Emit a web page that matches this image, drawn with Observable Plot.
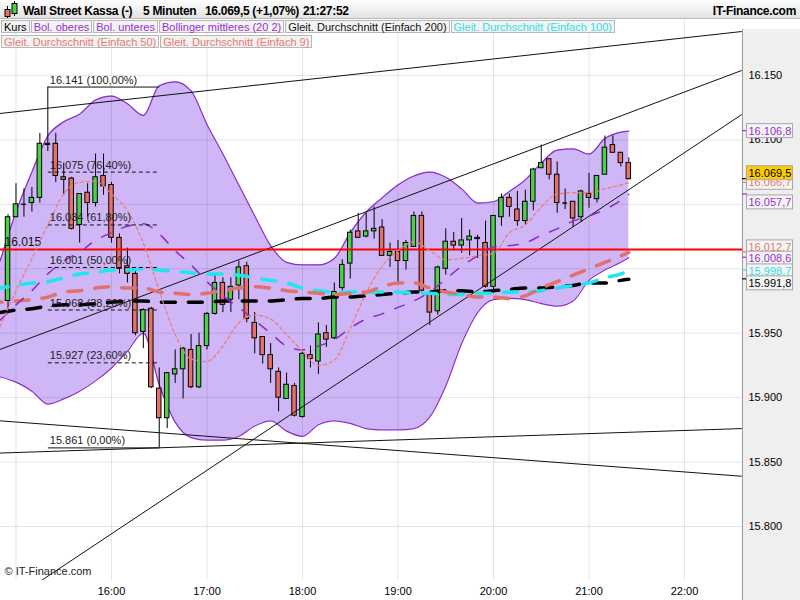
<!DOCTYPE html>
<html><head><meta charset="utf-8">
<script src="https://cdn.jsdelivr.net/npm/d3@7"></script>
<script src="https://cdn.jsdelivr.net/npm/@observablehq/plot@0.6"></script>
<style>
body{margin:0;width:800px;height:600px;position:relative;overflow:hidden;font-family:"Liberation Sans",Arial,sans-serif;background:#fff}
#header{position:absolute;left:0;top:0;width:800px;height:19px;background:linear-gradient(#ffffff,#e2e2e2);border-bottom:1px solid #b8b8b8;box-sizing:border-box}
#header span{position:absolute;top:3px;font-weight:bold;font-size:12px;letter-spacing:-0.3px;line-height:16px;color:#000;white-space:nowrap}
#rpanel{position:absolute;left:742px;top:29px;width:58px;height:571px;background:#efefef;border-left:1px solid #9a9a9a;box-sizing:border-box}
#chart{position:absolute;left:0;top:18px}
.row{position:absolute;left:1px;display:flex;gap:1px}
.leg{height:13px;line-height:13px;font-size:11px;border:1px solid #b8b8b8;background:#f3f3f3;padding:0 2px;box-sizing:border-box;white-space:nowrap}
</style></head>
<body>
<div id="rpanel"></div>
<div id="chart"></div>
<div id="header">
<svg width="20" height="19" style="position:absolute;left:1px;top:0">
<line x1="6.5" y1="6" x2="6.5" y2="18" stroke="#000"/>
<rect x="4" y="9.5" width="5" height="7" fill="#e8706a" stroke="#000"/>
<line x1="13.5" y1="1" x2="13.5" y2="16" stroke="#000"/>
<rect x="11" y="3.5" width="5" height="10" fill="#4cd04c" stroke="#000"/>
</svg>
<span id="t1" style="left:23px"></span><span id="t2" style="left:143px"></span><span id="t3" style="left:205px"></span><span id="t4" style="left:303px"></span>
<span id="t5" style="right:4px"></span>
</div>
<div class="row" id="leg1" style="top:20px"></div>
<div class="row" id="leg2" style="top:35px"></div>
<script>
// ---------- header / legend text ----------
const titleParts = ["Wall Street Kassa (-)", "5 Minuten", "16.069,5 (+1,07%)", "21:27:52", "IT-Finance.com"];
const legendRow1 = ["Kurs", "Bol. oberes", "Bol. unteres", "Bollinger mittleres (20 2)", "Gleit. Durchschnitt (Einfach 200)", "Gleit. Durchschnitt (Einfach 100)"];
const legendRow2 = ["Gleit. Durchschnitt (Einfach 50)", "Gleit. Durchschnitt (Einfach 9)"];
const legendColors1 = ["#000", "#9a2fd0", "#9a2fd0", "#9a2fd0", "#111", "#2fe0e8"];
const legendColors2 = ["#e57a74", "#e57a74"];

// ---------- candles (5 minute bars starting 14:55) ----------
const candleStart = "14:55";
const opens  = [15975,16040,16050,16051,16055,16097,16097,16071,16070,16034,16059,16051,16072,16065,16024,16002,15996,15951,15969,15907,15884,15918,15922,15937,15908,15940,15965,15989,15976,15987,16002,15958,15947,15933,15920,15899,15909,15885,15933,15928,15950,15946,15985,16004,16029,16025,16029,16032,16010,16013,16006,16017,16041,15981,15967,16000,16021,16018,16022,16024,16020,15986,16040,16055,16046,16037,16052,16078,16085,16073,16051,16052,16040,16058,16054,16073,16096,16090,16082];
const highs  = [16042,16066,16062,16063,16105,16141,16105,16082,16071,16058,16066,16089,16089,16067,16027,16016,15999,15969,15970,15923,15919,15937,15939,15949,15950,15966,15996,15993,15993,16006,16005,15966,15947,15942,15923,15919,15911,15936,15940,15958,15956,15989,16007,16030,16043,16043,16048,16038,16020,16022,16022,16044,16044,15982,16002,16031,16028,16039,16030,16026,16037,16041,16058,16058,16060,16061,16078,16096,16085,16083,16062,16052,16061,16074,16072,16103,16103,16090,16086];
const lows   = [15965,16040,16040,16044,16051,16091,16067,16057,16030,16020,16040,16048,16057,16020,15996,15989,15948,15938,15907,15861,15876,15911,15899,15907,15907,15937,15964,15966,15966,15976,15958,15934,15926,15911,15889,15899,15885,15884,15923,15918,15939,15945,15979,15992,16024,16024,16023,16010,16001,15989,15999,16017,15982,15956,15964,15995,16014,16012,16010,16008,15985,15983,16033,16040,16033,16034,16045,16078,16069,16043,16046,16032,16036,16047,16051,16073,16090,16079,16069];
const closes = [16040,16050,16050,16055,16097,16096,16072,16069,16031,16058,16051,16071,16064,16024,16000,15996,15950,15968,15908,15884,15919,15922,15938,15908,15940,15965,15989,15972,15986,16001,15961,15946,15933,15922,15900,15910,15886,15934,15930,15949,15945,15982,16003,16028,16024,16029,16031,16010,16013,16006,16020,16041,15983,15966,16001,16021,16018,16022,16025,16023,15986,16041,16055,16048,16037,16052,16077,16082,16073,16051,16051,16039,16060,16055,16072,16094,16090,16082,16069.5];

// ---------- indicators, read every 10 minutes ----------
const indTimes = ["14:50","15:00","15:10","15:20","15:30","15:40","15:50","16:00","16:10","16:20","16:30","16:40","16:50","17:00","17:10","17:20","17:30","17:40","17:50","18:00","18:10","18:20","18:30","18:40","18:50","19:00","19:10","19:20","19:30","19:40","19:50","20:00","20:10","20:20","20:30","20:40","20:50","21:00","21:10","21:20","21:25"];
const bolUpper = [16006,16044,16075,16103,16114,16120,16131,16134,16128,16119,16142,16145,16138,16112,16089,16065,16041,16018,16005,16003,16003,16008,16028,16044,16055,16065,16072,16075,16071,16062,16051,16052,16060,16069,16082,16092,16093,16089,16101,16106,16106.8];
const bolLower = [15916,15912,15905,15895,15899,15905,15913,15923,15936,15950,15910,15881,15869,15867,15867,15870,15878,15882,15874,15870,15879,15882,15880,15876,15875,15875,15876,15885,15909,15942,15966,15976,15977,15976,15973,15971,15975,15991,15999,16005,16008.6];
const bolMid   = [15960,15972,15983,15996,16006,16013,16022,16028,16033,16035,16027,16014,16003,15990,15979,15970,15960,15950,15940,15937,15940,15945,15954,15961,15965,15970,15975,15982,15992,16002,16010,16017,16018,16020,16026,16031,16037,16041,16046,16053,16057.7];
const ma9      = [15955,15983,16008,16034,16058,16067,16068,16058,16045,16020,15983,15949,15930,15928,15940,15958,15964,15961,15949,15936,15925,15929,15954,15981,16002,16014,16021,16014,16007,16008,16010,16012,16028,16034,16048,16058,16059,16059,16062,16065,16066.7];
const ma50     = [15974,15975,15976,15978,15982,15983,15985,15986,15985,15985,15982,15981,15980,15981,15983,15985,15986,15985,15983,15982,15981,15980,15981,15982,15986,15989,15989,15985,15982,15980,15978,15978,15977,15979,15985,15990,15995,16000,16005,16010,16012.7];
const ma100    = [15985,15987,15989,15990,15993,15996,15997,15999,15999,16000,15999,15998,15997,15996,15996,15995,15993,15991,15989,15985,15983,15982,15982,15982,15982,15982,15981,15981,15980,15980,15981,15981,15982,15982,15983,15985,15987,15989,15993,15996,15998.7];
const ma200    = [15966,15968,15969,15971,15972,15972,15973,15974,15975,15975,15974,15974,15974,15974,15975,15975,15975,15975,15976,15977,15977,15978,15978,15979,15980,15981,15982,15982,15983,15983,15982,15983,15984,15985,15985,15986,15987,15989,15989,15991,15991.8];

// ---------- drawn objects ----------
const trendT1 = ["14:50","14:50","14:50","14:50","14:50"];
const trendP1 = [16120.5,15937.4,15736.8,15882,15857];
const trendT2 = ["22:36","22:36","22:36","22:36","22:36"];
const trendP2 = [16184.1,16153.9,16119.7,15839,15876];
const fibValues = [16141,16075,16034,16001,15968,15927,15861];
const fibLabels = ["16.141 (100,00%)","16.075 (76,40%)","16.034 (61,80%)","16.001 (50,00%)","15.968 (38,20%)","15.927 (23,60%)","15.861 (0,00%)"];
const fibSolid = [true,false,false,false,false,false,true];
const fibFrom = "15:20", fibTo = "16:30";
const supportLevel = 16015, supportLabel = "16.015";

// ---------- axes ----------
const xTickLabels = ["16:00","17:00","18:00","19:00","20:00","21:00","22:00"];
const xGridTimes = ["15:00","16:00","17:00","18:00","19:00","20:00","21:00","22:00"];
const yGridValues = [15800,15850,15900,15950,16000,16050,16100,16150];
const yTickLabels = [15800,15850,15900,15950,16100,16150]; // 16.000 / 16.050 are covered by value boxes
const xDomain = ["14:50:16","22:36:26"];
const yDomain = [15758.1,16194.2];

// right-hand value labels (draw order)
const rlValues = [16106.8,16066.7,16069.5,16057.7,16012.7,16008.6,15998.7,15991.8];
const rlColors = ["#9a2fd0","#e57a74","#000","#9a2fd0","#e57a74","#9a2fd0","#2fe0e8","#000"];
const rlFills  = ["#f4f4f4","#f4f4f4","#ffcc00","#f4f4f4","#f4f4f4","#f4f4f4","#f4f4f4","#f4f4f4"];
const rlShift  = [0,0,-6,8,-5,1,1,4];

// ---------- build ----------
const T = s => { const [h,m,sec] = s.split(":").map(Number); return new Date(Date.UTC(2024,0,2,h,m,sec||0)); };
const deLoc = d3.formatLocale({decimal:",", thousands:".", grouping:[3], currency:["",""]});
const fmtTick = deLoc.format(",.0f");
const fmtVal = deLoc.format(",.1f");

document.getElementById("t1").textContent = titleParts[0];
document.getElementById("t2").textContent = titleParts[1];
document.getElementById("t3").textContent = titleParts[2];
document.getElementById("t4").textContent = titleParts[3];
document.getElementById("t5").textContent = titleParts[4];
function buildLegend(id, items, colors){
  const el = document.getElementById(id);
  items.forEach((t,i)=>{ const d=document.createElement("div"); d.className="leg"; d.textContent=t; d.style.color=colors[i]; el.appendChild(d); });
}
buildLegend("leg1", legendRow1, legendColors1);
buildLegend("leg2", legendRow2, legendColors2);

const t0 = T(candleStart);
const candles = opens.map((o,i)=>({date: d3.utcMinute.offset(t0, 5*i), open:o, high:highs[i], low:lows[i], close:closes[i]}));
const HALF = 85*1000;
const ind = indTimes.map((t,i)=>({date:T(t), upper:bolUpper[i], lower:bolLower[i], mid:bolMid[i], ma9:ma9[i], ma50:ma50[i], ma100:ma100[i], ma200:ma200[i]}));
const trends = trendT1.map((t,i)=>({x1:T(t), y1:trendP1[i], x2:T(trendT2[i]), y2:trendP2[i]}));
const fibs = fibValues.map((v,i)=>({v, label:fibLabels[i], solid:fibSolid[i], x1:T(fibFrom), x2:T(fibTo)}));

const purple = "#8a2bc8";
const chart = Plot.plot({
  width: 800, height: 582,
  marginLeft: 0, marginRight: 58, marginTop: 0, marginBottom: 20,
  style: {fontFamily: "'Liberation Sans', Arial, sans-serif", fontSize: "11px", background: "transparent", color: "#000"},
  x: {type: "utc", domain: xDomain.map(T), label: null},
  y: {domain: yDomain, label: null},
  marks: [
    Plot.areaY(ind, {x:"date", y1:"lower", y2:"upper", fill:"#cfb6f7", curve:"monotone-x", clip:true}),
    Plot.ruleX(xGridTimes.map(T), {stroke:"#000", strokeOpacity:0.1}),
    Plot.ruleY(yGridValues, {stroke:"#000", strokeOpacity:0.1}),
    Plot.line(ind, {x:"date", y:"upper", stroke:purple, strokeWidth:1.2, curve:"monotone-x", clip:true}),
    Plot.line(ind, {x:"date", y:"lower", stroke:purple, strokeWidth:1.2, curve:"monotone-x", clip:true}),
    // candles
    Plot.ruleX(candles, {x:"date", y1:"low", y2:"high", stroke:"#000", strokeWidth:1}),
    Plot.rect(candles.filter(d=>d.open!==d.close), {x1:d=>new Date(+d.date-HALF), x2:d=>new Date(+d.date+HALF), y1:"open", y2:"close", fill:d=>d.close>d.open?"#4cd04c":"#e8706a", stroke:"#000", strokeWidth:1}),
    Plot.ruleY(candles.filter(d=>d.open===d.close), {x1:d=>new Date(+d.date-HALF), x2:d=>new Date(+d.date+HALF), y:"open", stroke:"#000", strokeWidth:1.5}),
    // trend lines
    Plot.link(trends, {x1:"x1", y1:"y1", x2:"x2", y2:"y2", stroke:"#111", strokeWidth:1, clip:true}),
    // support line
    Plot.ruleY([supportLevel], {stroke:"#ff0000", strokeWidth:2}),
    Plot.text([supportLabel], {frameAnchor:"left", y:[supportLevel], dx:4, dy:-7, textAnchor:"start", fontSize:12, fill:"#111"}),
    // moving averages
    Plot.line(ind, {x:"date", y:"ma200", stroke:"#000", strokeWidth:3.5, strokeDasharray:"14,13", curve:"monotone-x", clip:true}),
    Plot.line(ind, {x:"date", y:"ma100", stroke:"#1fe6ee", strokeWidth:3.5, strokeDasharray:"14,13", strokeDashoffset:6, curve:"monotone-x", clip:true}),
    Plot.line(ind, {x:"date", y:"ma50", stroke:"#e0726a", strokeWidth:3.5, strokeDasharray:"14,13", strokeDashoffset:12, curve:"monotone-x", clip:true}),
    Plot.line(ind, {x:"date", y:"mid", stroke:purple, strokeWidth:1.5, strokeDasharray:"10,12", curve:"monotone-x", clip:true}),
    Plot.line(ind, {x:"date", y:"ma9", stroke:"#e8807a", strokeWidth:1.3, strokeDasharray:"3,3", curve:"monotone-x", clip:true}),
    // fibonacci
    Plot.link(fibs.filter(d=>d.solid), {x1:"x1", x2:"x2", y1:"v", y2:"v", stroke:"#111", strokeWidth:1}),
    Plot.link(fibs.filter(d=>!d.solid), {x1:"x1", x2:"x2", y1:"v", y2:"v", stroke:"#111", strokeWidth:1, strokeDasharray:"4,3"}),
    Plot.text(fibs, {x:"x1", y:"v", text:"label", dx:2, dy:-7, textAnchor:"start", fontSize:11, fill:"#222"}),
    Plot.text(["© IT-Finance.com"], {frameAnchor:"bottom-left", dx:4, dy:-6, textAnchor:"start", fontSize:11, fill:"#222"}),
    // axes
    Plot.axisX({ticks: xTickLabels.map(T), tickFormat: d3.utcFormat("%H:%M"), tickSize:0, tickPadding:7, fontSize:11}),
    Plot.axisY({anchor:"right", ticks: yTickLabels, tickFormat: fmtTick, tickSize:0, tickPadding:6, fontSize:11})
  ]
});
document.getElementById("chart").appendChild(chart);

// right-hand value boxes using the plot's own y scale
const ys = chart.scale("y");
const svg = d3.select(chart);
const g = svg.append("g").attr("font-size", 11).attr("text-anchor", "start").attr("font-family", "'Liberation Sans', Arial, sans-serif");
rlValues.forEach((v,i)=>{
  const y = ys.apply(v);
  g.append("line").attr("x1",742).attr("x2",747).attr("y1",y).attr("y2",y).attr("stroke",rlColors[i]).attr("stroke-width",1.2);
  const yy = y + rlShift[i];
  g.append("rect").attr("x",746.5).attr("y",yy-7).attr("width",46).attr("height",14).attr("fill",rlFills[i]).attr("stroke","#a8a8a8");
  g.append("text").attr("x",748.5).attr("y",yy+4).attr("text-anchor","start").attr("fill",rlColors[i]).text(fmtVal(v));
});
</script>
</body></html>
